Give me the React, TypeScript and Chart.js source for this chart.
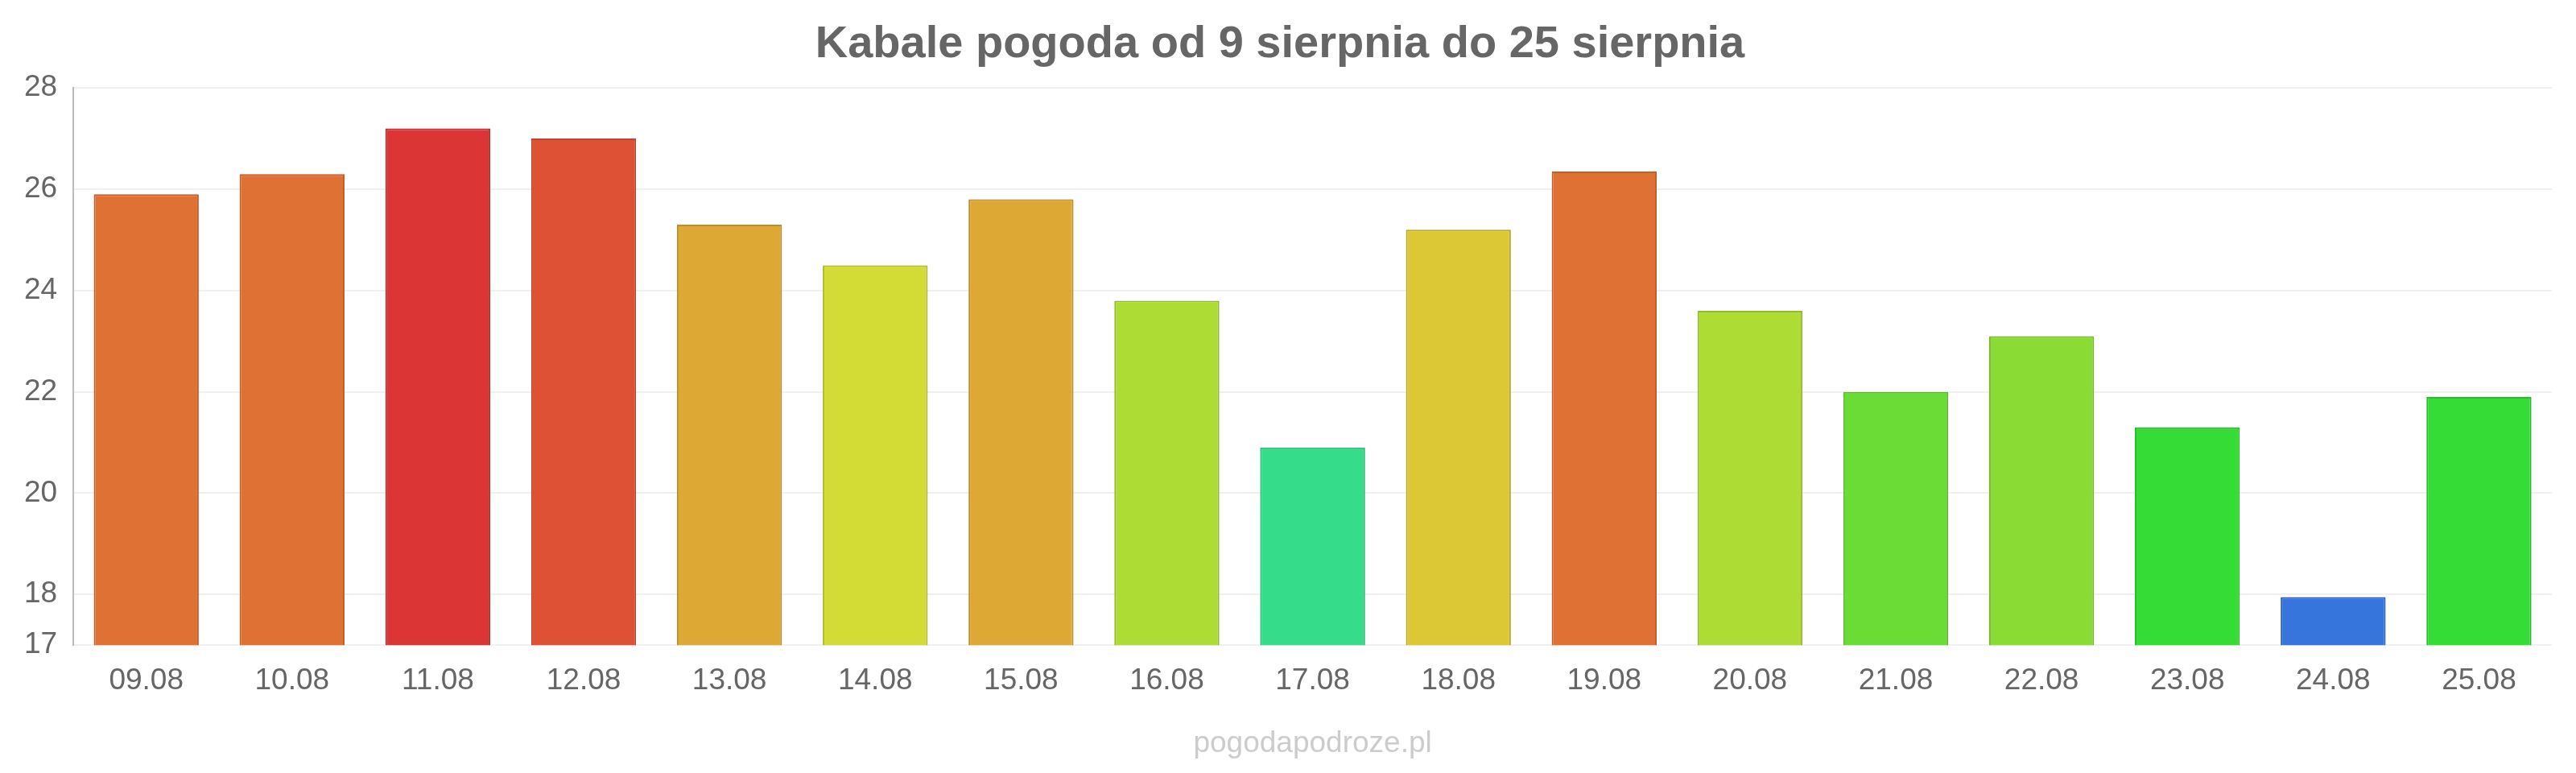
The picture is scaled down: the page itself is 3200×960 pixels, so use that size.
import React, { useEffect, useRef } from "react";
import { Chart, registerables } from "chart.js";
Chart.register(...registerables);

const categories = ["09.08","10.08","11.08","12.08","13.08","14.08","15.08","16.08","17.08","18.08","19.08","20.08","21.08","22.08","23.08","24.08","25.08"];
const temps = [25.9, 26.3, 27.2, 27.0, 25.3, 24.5, 25.8, 23.8, 20.9, 25.2, 26.35, 23.6, 22.0, 23.1, 21.3, 17.95, 21.9];
const colors = ["#e07135","#e07135","#db3535","#de5135","#dea835","#d2dc35","#dea835","#addc35","#35dc8a","#dcc835","#e07135","#addc35","#6adc35","#8adc35","#35dc35","#3575dc","#35dc35"];
const borders = ["#c0602c","#c0602c","#b82c2c","#bd452c","#bd8f2c","#b1ba2c","#bd8f2c","#93ba2c","#2cba75","#bba92c","#c0602c","#93ba2c","#5aba2c","#75ba2c","#2cba2c","#2c63ba","#2cba2c"];
const tickValues = [17, 18, 20, 22, 24, 26, 28];

export default function App() {
  const ref = useRef<HTMLCanvasElement>(null);
  useEffect(() => {
    const chart = new Chart(ref.current!, {
      type: "bar",
      data: {
        labels: categories,
        datasets: [{ data: temps, backgroundColor: colors, borderColor: borders, borderWidth: 2, categoryPercentage: 0.72, barPercentage: 1 }],
      },
      options: {
        animation: false,
        responsive: false,
        layout: { padding: { left: 10, right: 30, top: 10, bottom: 10 } },
        plugins: {
          legend: { display: false },
          tooltip: { enabled: false },
          title: { display: true, text: "Kabale pogoda od 9 sierpnia do 25 sierpnia", color: "#666", font: { family: "Liberation Sans", size: 56, weight: "bold" }, padding: { top: 12, bottom: 20 } },
        },
        scales: {
          x: {
            grid: { display: false },
            border: { display: false },
            ticks: { color: "#666", font: { family: "Liberation Sans", size: 37 }, padding: 14 },
            title: { display: true, text: "pogodapodroze.pl", color: "#ccc", font: { family: "Liberation Sans", size: 37 }, padding: { top: 20 } },
          },
          y: {
            min: 17, max: 28,
            afterBuildTicks: (s: any) => { s.ticks = tickValues.map((v) => ({ value: v })); },
            grid: { color: "#f0f0f0", lineWidth: 2, drawTicks: false },
            border: { color: "#bbb", width: 2 },
            ticks: { color: "#666", font: { family: "Liberation Sans", size: 37 }, padding: 20 },
          },
        },
      },
    });
    return () => chart.destroy();
  }, []);
  return (
    <div style={{ position: "absolute", left: 0, top: 0, background: "#fff" }}>
      <canvas ref={ref} width={3200} height={960} />
    </div>
  );
}
